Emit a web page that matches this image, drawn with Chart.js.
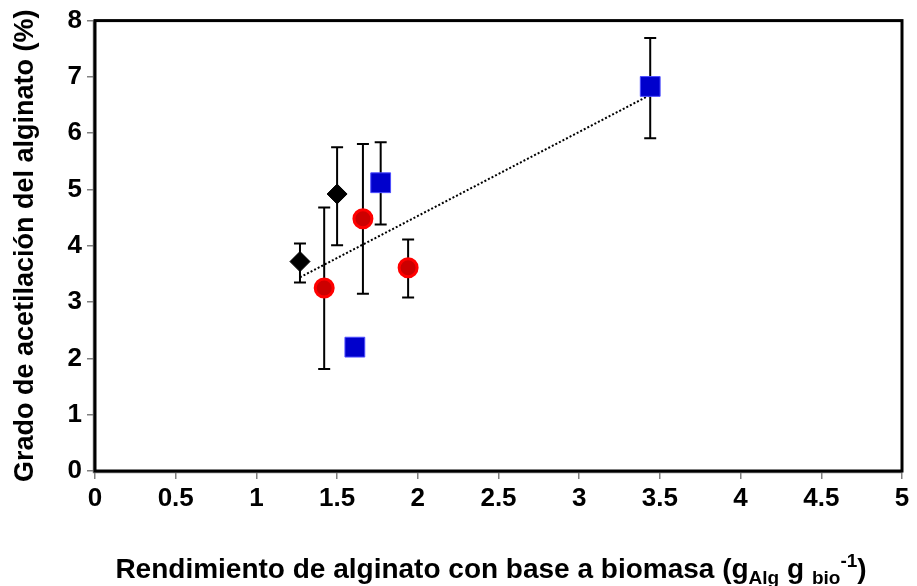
<!DOCTYPE html>
<html>
<head>
<meta charset="utf-8">
<script src="https://cdn.jsdelivr.net/npm/chart.js@4"></script>
<style>
  body { margin: 0; background: #fff; }
  canvas { display: block; }
</style>
</head>
<body>
<canvas id="grafico" width="917" height="586"></canvas>
<script>
// Datos: rendimiento (x) vs grado de acetilación (y) con barras de error
const rombosX = [1.27, 1.50];
const rombosY = [3.72, 4.92];
const rombosMin = [3.35, 4.01];
const rombosMax = [4.04, 5.75];

const circulosX = [1.42, 1.66, 1.94];
const circulosY = [3.25, 4.48, 3.61];
const circulosMin = [1.81, 3.15, 3.08];
const circulosMax = [4.68, 5.81, 4.11];

const cuadradosX = [1.61, 1.77, 3.44];
const cuadradosY = [2.20, 5.12, 6.83];
const cuadradosMin = [null, 4.38, 5.91];
const cuadradosMax = [null, 5.84, 7.69];

// Línea de tendencia (extremos)
const tendenciaX = [1.27, 3.44];
const tendenciaY = [3.44, 6.68];

const ticksX = [0, 0.5, 1, 1.5, 2, 2.5, 3, 3.5, 4, 4.5, 5];
const ticksY = [0, 1, 2, 3, 4, 5, 6, 7, 8];

const fuente = "'Liberation Sans', Arial, sans-serif";

function puntos(xs, ys) {
    return xs.map((x, i) => ({ x: x, y: ys[i] }));
}

// Barras de error verticales
const barrasError = {
    id: 'barrasError',
    beforeDatasetsDraw(chart) {
        const ctx = chart.ctx;
        const sx = chart.scales.x, sy = chart.scales.y;
        const grupos = [
            [rombosX, rombosMin, rombosMax],
            [circulosX, circulosMin, circulosMax],
            [cuadradosX, cuadradosMin, cuadradosMax]
        ];
        ctx.save();
        ctx.strokeStyle = '#000';
        ctx.lineWidth = 2;
        grupos.forEach(([xs, lo, hi]) => {
            xs.forEach((x, i) => {
                if (lo[i] == null) return;
                const px = sx.getPixelForValue(x);
                const y1 = sy.getPixelForValue(lo[i]);
                const y2 = sy.getPixelForValue(hi[i]);
                ctx.beginPath();
                ctx.moveTo(px, y1); ctx.lineTo(px, y2);
                ctx.moveTo(px - 6, y1); ctx.lineTo(px + 6, y1);
                ctx.moveTo(px - 6, y2); ctx.lineTo(px + 6, y2);
                ctx.stroke();
            });
        });
        ctx.restore();
    }
};

// Marco del área de trazado y título del eje x con subíndices
const marcoYTitulo = {
    id: 'marcoYTitulo',
    afterDraw(chart) {
        const ctx = chart.ctx;
        const a = chart.chartArea;
        ctx.save();
        ctx.strokeStyle = '#808080';
        ctx.lineWidth = 1.5;
        ctx.beginPath();
        ctx.moveTo(a.left - 1.5, a.top);
        ctx.lineTo(a.left - 1.5, a.bottom + 1.5);
        ctx.lineTo(a.right, a.bottom + 1.5);
        ctx.stroke();
        ctx.strokeStyle = '#000';
        ctx.lineWidth = 3;
        ctx.strokeRect(a.left, a.top, a.right - a.left, a.bottom - a.top);

        const partes = [
            { t: 'Rendimiento de alginato con base a biomasa (g', s: 28, dy: 0 },
            { t: 'Alg', s: 19, dy: 6 },
            { t: ' g ', s: 28, dy: 0 },
            { t: 'bio', s: 19, dy: 6 },
            { t: '-1', s: 19, dy: -11 },
            { t: ')', s: 28, dy: 0 }
        ];
        let ancho = 0;
        partes.forEach(p => {
            ctx.font = 'bold ' + p.s + 'px ' + fuente;
            p.w = ctx.measureText(p.t).width;
            ancho += p.w;
        });
        let x = 491 - ancho / 2;
        const base = 578;
        ctx.fillStyle = '#000';
        ctx.textBaseline = 'alphabetic';
        ctx.textAlign = 'left';
        partes.forEach(p => {
            ctx.font = 'bold ' + p.s + 'px ' + fuente;
            ctx.fillText(p.t, x, base + p.dy);
            x += p.w;
        });
        ctx.restore();
    }
};

const ctx = document.getElementById('grafico').getContext('2d');
new Chart(ctx, {
    type: 'scatter',
    data: {
        datasets: [
            {
                data: puntos(rombosX, rombosY),
                pointStyle: 'rectRot',
                pointRadius: 10,
                backgroundColor: '#000',
                borderColor: '#000',
                borderWidth: 1
            },
            {
                data: puntos(circulosX, circulosY),
                pointStyle: 'circle',
                pointRadius: 9,
                backgroundColor: '#cc0000',
                borderColor: '#ff0000',
                borderWidth: 3
            },
            {
                data: puntos(cuadradosX, cuadradosY),
                pointStyle: 'rect',
                pointRadius: 14,
                backgroundColor: '#0000cc',
                borderColor: '#4d4dff',
                borderWidth: 1
            },
            {
                type: 'line',
                data: puntos(tendenciaX, tendenciaY),
                borderColor: '#000',
                borderWidth: 2,
                borderDash: [2, 2],
                pointRadius: 0,
                fill: false
            }
        ]
    },
    options: {
        responsive: false,
        animation: false,
        layout: { padding: { top: 18, right: 11, left: 0, bottom: 0 } },
        plugins: {
            legend: { display: false },
            tooltip: { enabled: false }
        },
        scales: {
            x: {
                type: 'linear',
                min: 0,
                max: 5,
                afterBuildTicks: s => { s.ticks = ticksX.map(v => ({ value: v })); },
                afterFit: s => { s.height = 115; s.paddingRight = 0; },
                ticks: {
                    color: '#000',
                    padding: 4,
                    maxRotation: 0,
                    callback: v => String(v),
                    font: { family: fuente, size: 26, weight: 'bold' }
                },
                grid: {
                    drawOnChartArea: false,
                    tickLength: 8,
                    color: '#808080',
                    lineWidth: 1.5
                },
                border: { display: false }
            },
            y: {
                min: 0,
                max: 8,
                afterBuildTicks: s => { s.ticks = ticksY.map(v => ({ value: v })); },
                afterFit: s => { s.width = 95; },
                ticks: {
                    color: '#000',
                    padding: 5,
                    font: { family: fuente, size: 26, weight: 'bold' }
                },
                grid: {
                    drawOnChartArea: false,
                    tickLength: 8,
                    color: '#808080',
                    lineWidth: 1.5
                },
                border: { display: false },
                title: {
                    display: true,
                    text: 'Grado de acetilación del alginato (%)',
                    color: '#000',
                    padding: { top: 9, bottom: 0 },
                    font: { family: fuente, size: 27, weight: 'bold' }
                }
            }
        }
    },
    plugins: [barrasError, marcoYTitulo]
});
</script>
</body>
</html>
